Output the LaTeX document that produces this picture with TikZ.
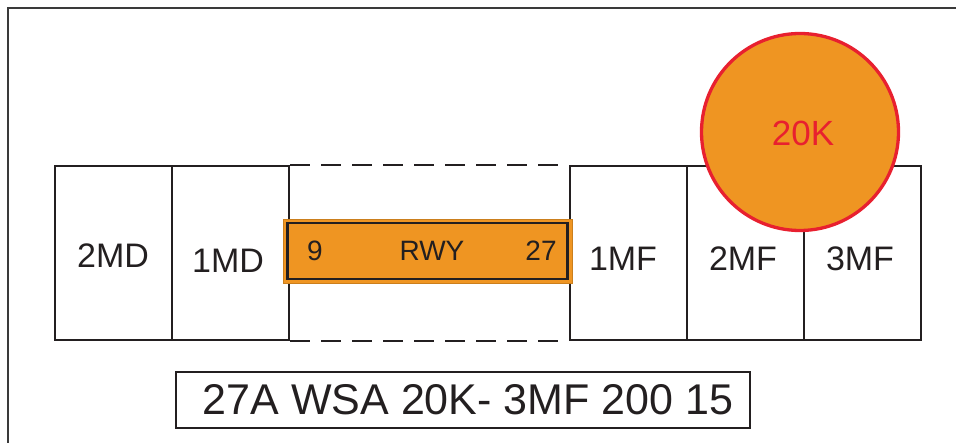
\documentclass[tikz,border=0pt]{standalone}
\usepackage{fontspec}
\setmainfont{Liberation Sans}
\definecolor{ink}{HTML}{231F20}
\definecolor{rwyorange}{HTML}{EF9522}
\definecolor{ringred}{HTML}{E8202F}
\definecolor{frame}{HTML}{3A3A3A}
\tikzset{
  cellbox/.style={draw=ink, line width=2.3pt, minimum width=117pt, minimum height=174pt, inner sep=0pt, anchor=north west},
  celltext/.style={text=ink, font=\fontsize{34pt}{34pt}\selectfont, inner sep=0pt},
  rwytext/.style={text=ink, font=\fontsize{28pt}{28pt}\selectfont, inner sep=0pt},
}
\begin{document}
\begin{tikzpicture}[x=1pt,y=-1pt]
\useasboundingbox (0,0) rectangle (956,443);
% outer frame (only top and left visible)
\draw[frame, line width=1.5pt] (8,450) -- (8,8) -- (960,8);
% cells
\node[cellbox] (c2md) at (54,165) {};
\node[cellbox] (c1md) at (171,165) {};
\node[cellbox] (c1mf) at (569,165) {};
\node[cellbox] (c2mf) at (686,165) {};
\node[cellbox] (c3mf) at (803,165) {};
% dashed runway section
\draw[ink, line width=2.3pt, dash pattern=on 20pt off 11pt] (c1md.north east) -- (c1mf.north west);
\draw[ink, line width=2.3pt, dash pattern=on 20pt off 11pt] (c1md.south east) -- (c1mf.south west);
% cell labels
\node[celltext] (t2md) at (113,256) {2MD};
\node[celltext] (t1md) at (228,260.5) {1MD};
\node[celltext] (t1mf) at (623,259) {1MF};
\node[celltext] (t2mf) at (743,259) {2MF};
\node[celltext] (t3mf) at (860,259) {3MF};
% runway
\node[fill=rwyorange, draw=rwyorange!85!black, line width=0.6pt, minimum width=289pt, minimum height=64pt, inner sep=0pt] (rwyout) at (427.5,251) {};
\node[draw=ink, line width=2.3pt, minimum width=280pt, minimum height=56.5pt, inner sep=0pt] (rwy) at (427.5,251) {};
\node[rwytext] (r9) at (315,251) {9};
\node[rwytext] (rname) at (432,251) {RWY};
\node[rwytext] (r27) at (541,251) {27};
% 20K circle
\node[circle, fill=rwyorange, draw=ringred, line width=3.3pt, minimum size=197pt, inner sep=0pt] (ring) at (800,132) {};
\node[text=ringred, font=\fontsize{35pt}{35pt}\selectfont, inner sep=0pt] (ringtext) at (803,133) {20K};
% bottom message box
\node[draw=ink, line width=2.6pt, minimum width=574pt, minimum height=56pt, inner sep=0pt] (msgbox) at (463,400) {};
\node[text=ink, font=\fontsize{43pt}{43pt}\selectfont, inner sep=0pt] (msg) at (468,400) {27A WSA 20K- 3MF 200 15};
\end{tikzpicture}
\end{document}
